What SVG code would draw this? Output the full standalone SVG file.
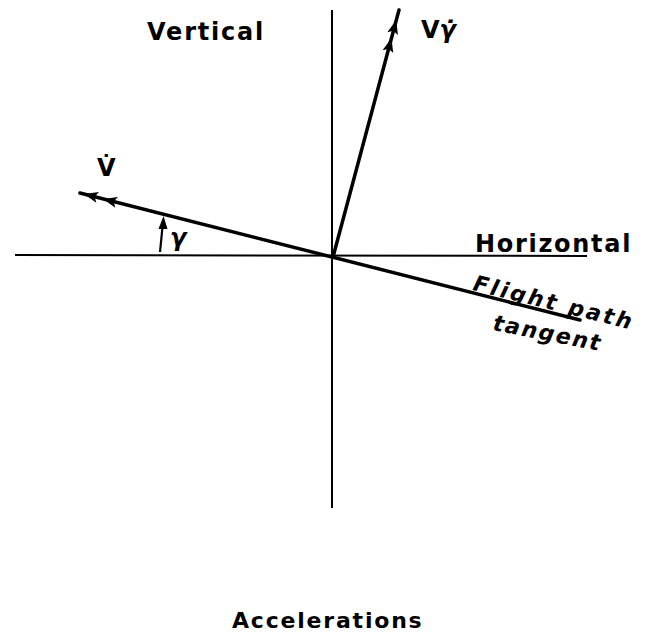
<svg xmlns="http://www.w3.org/2000/svg" xmlns:xlink="http://www.w3.org/1999/xlink" width="645" height="639" viewBox="0 0 645 639">
<style>
.axis{stroke:#000;stroke-width:2;fill:none}
.vec{stroke:#000;stroke-width:3.5;fill:none;stroke-linecap:round}
.lbl{font-family:"DejaVu Sans","Liberation Sans",sans-serif;font-weight:bold;fill:#000}
</style>
<defs>
<path id="ah" d="M2,0 L-12,-5.5 L-9,0 L-12,5.5 Z" fill="#000"/>
</defs>
<rect width="645" height="639" fill="#fff"/>
<g id="connectors">
<line class="axis" x1="15" y1="255" x2="587" y2="256"/>
<line class="axis" x1="332" y1="10" x2="332" y2="508"/>
<line class="vec" x1="80" y1="193" x2="580" y2="320"/>
<line class="vec" x1="333" y1="257" x2="399" y2="10"/>
<use xlink:href="#ah" transform="translate(395.7,22) rotate(-75)"/>
<use xlink:href="#ah" transform="translate(391,40) rotate(-75)"/>
<use xlink:href="#ah" transform="translate(86,194.5) rotate(-165.8)"/>
<use xlink:href="#ah" transform="translate(105,199.4) rotate(-165.8)"/>
<line x1="160" y1="252" x2="163" y2="222" stroke="#000" stroke-width="2.2"/>
<path d="M163.5,216 L158.5,229 L167.5,229 Z" fill="#000"/>
</g>
<g id="vertical"><text class="lbl" x="147" y="40" font-size="24" letter-spacing="1.8">Vertical</text></g>
<g id="vgammadot"><text class="lbl" x="421" y="38" font-size="24">V<tspan font-style="italic">γ̇</tspan></text></g>
<g id="vdot"><text class="lbl" x="97" y="176" font-size="24">V̇</text></g>
<g id="gamma"><text class="lbl" x="170" y="246" font-size="24" font-style="italic">γ</text></g>
<g id="horizontal"><text class="lbl" x="475" y="252" font-size="24" letter-spacing="1.7">Horizontal</text></g>
<g id="flightpath"><text class="lbl" transform="translate(472,290) rotate(14)" font-size="22" font-style="italic" letter-spacing="2.6">Flight path</text></g>
<g id="tangent"><text class="lbl" transform="translate(492,330) rotate(11)" font-size="22" font-style="italic" letter-spacing="1.8">tangent</text></g>
<g id="accelerations"><text class="lbl" x="232" y="628" font-size="22" letter-spacing="1.8">Accelerations</text></g>
</svg>
